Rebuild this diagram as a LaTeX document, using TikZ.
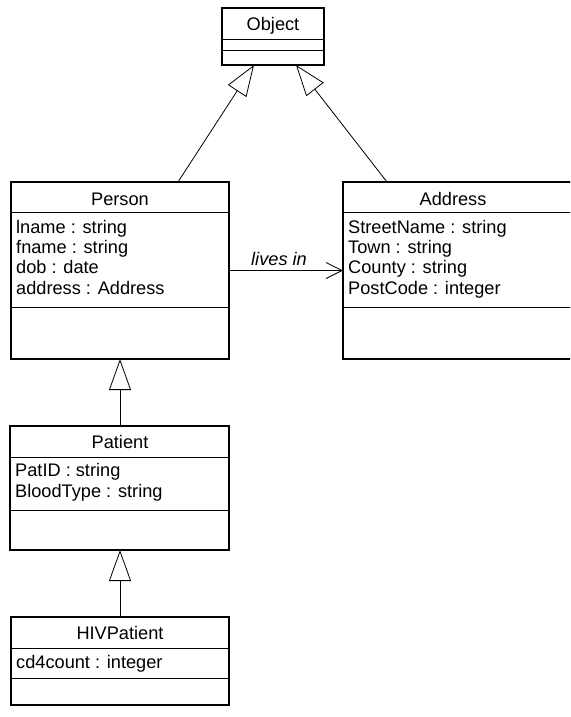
\documentclass[tikz,border=0pt]{standalone}
\usepackage{fontspec}
\setmainfont{Liberation Sans}
\usetikzlibrary{arrows.meta,calc}

\tikzset{
  umlbox/.style={draw, line width=1.1pt, anchor=north west, inner sep=0pt, outer sep=0pt},
  compart/.style={line width=0.9pt},
  title/.style={anchor=base, inner sep=0pt},
  attr/.style={anchor=base west, inner sep=0pt},
  gen/.style={line width=0.8pt, -{Triangle[open, length=31pt, width=22pt, line width=0.8pt]}},
  assoc/.style={line width=0.8pt, -{Straight Barb[length=16pt, width=16pt, line width=0.8pt]}},
}

\begin{document}
\begin{tikzpicture}[x=1pt, y=-1pt, font=\fontsize{18.2}{20.3}\selectfont]
\useasboundingbox (0,0) rectangle (570,717);
\clip (0,0) rectangle (570,717);

% Object
\node[umlbox, minimum width=102pt, minimum height=57pt] (object) at (222,8) {};
\draw[compart] (222,39) -- (324,39);
\draw[compart] (222,50) -- (324,50);
\node[title] (objectT) at (273,30.7) {Object};

% Person
\node[umlbox, minimum width=218pt, minimum height=177pt] (person) at (11,182) {};
\draw[compart] (11,212) -- (229,212);
\draw[compart] (11,307) -- (229,307);
\node[title] (personT) at (120,205) {Person};
\node[attr] (p1) at (16,233.3) {lname : string};
\node[attr] (p2) at (16,253.6) {fname : string};
\node[attr] (p3) at (16,273.9) {dob : date};
\node[attr] (p4) at (16,294.2) {address : Address};

% Address
\node[umlbox, minimum width=240pt, minimum height=177pt] (address) at (343,182) {};
\draw[compart] (343,212) -- (583,212);
\draw[compart] (343,307) -- (583,307);
\node[title] (addressT) at (453,205) {Address};
\node[attr] (a1) at (348,233.3) {StreetName : string};
\node[attr] (a2) at (348,253.6) {Town : string};
\node[attr] (a3) at (348,273.9) {County : string};
\node[attr] (a4) at (348,294.2) {PostCode : integer};

% Patient
\node[umlbox, minimum width=219pt, minimum height=124pt] (patient) at (10,426) {};
\draw[compart] (10,457) -- (229,457);
\draw[compart] (10,510) -- (229,510);
\node[title] (patientT) at (120,448.3) {Patient};
\node[attr] (t1) at (15,476.7) {PatID : string};
\node[attr] (t2) at (15,497.3) {BloodType : string};

% HIVPatient
\node[umlbox, minimum width=218pt, minimum height=88pt] (hiv) at (11,617) {};
\draw[compart] (11,648) -- (229,648);
\draw[compart] (11,678) -- (229,678);
\node[title] (hivT) at (120,639) {HIVPatient};
\node[attr] (h1) at (16,668.3) {cd4count : integer};

% Generalisations
\draw[gen] ($(person.north west)+(167,0)$) -- ($(object.south west)+(32,0)$);
\draw[gen] ($(address.north west)+(44,0)$) -- ($(object.south west)+(74,0)$);
\draw[gen] (patient.north -| person.south) -- (person.south);
\draw[gen] (hiv.north) -- (hiv.north |- patient.south);

% Association
\draw[assoc] (person.east) -- (address.west);
\node[attr, font=\fontsize{18.2}{20.3}\selectfont\itshape] (livesin) at (251,265) {lives in};
\end{tikzpicture}
\end{document}
